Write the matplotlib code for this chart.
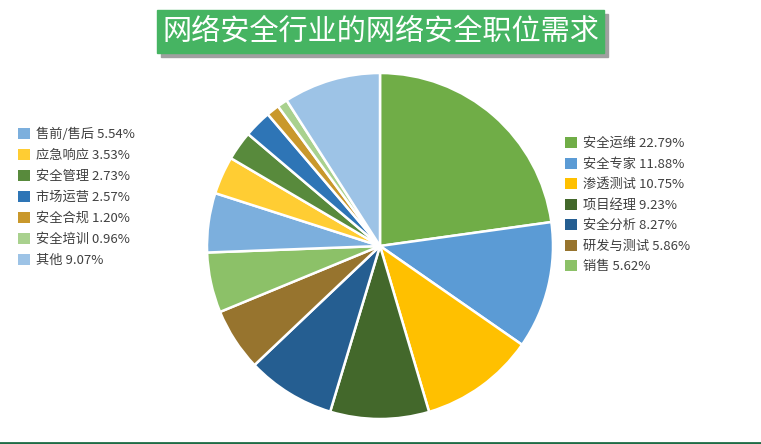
import matplotlib
matplotlib.use('Agg')
import matplotlib.pyplot as plt
from matplotlib.patches import Rectangle
from matplotlib.lines import Line2D

plt.rcParams['font.family'] = ['Noto Sans CJK SC', 'DejaVu Sans']

title = '网络安全行业的网络安全职位需求'
jobs = ['安全运维', '安全专家', '渗透测试', '项目经理', '安全分析', '研发与测试', '销售',
        '售前/售后', '应急响应', '安全管理', '市场运营', '安全合规', '安全培训', '其他']
shares = [22.79, 11.88, 10.75, 9.23, 8.27, 5.86, 5.62,
          5.54, 3.53, 2.73, 2.57, 1.20, 0.96, 9.07]
colors = ['#70ad47', '#5b9bd5', '#ffc000', '#43682b', '#255e91', '#97742e', '#8cc168',
          '#7cafdd', '#ffcd33', '#588a3c', '#2e75b6', '#c9982b', '#a9d18e', '#9dc3e6']

W, H = 761, 444
fig = plt.figure(figsize=(W / 100, H / 100), dpi=100)

# pie, center (380, 246) px, radius 173 px
cx, cy, r = 380, 246, 173
ax = fig.add_axes([(cx - r) / W, (H - cy - r) / H, 2 * r / W, 2 * r / H])
wedges, _ = ax.pie(shares, colors=colors, startangle=90, counterclock=False,
                   wedgeprops=dict(edgecolor='white', linewidth=1.8))
ax.set_xlim(-1, 1)
ax.set_ylim(-1, 1)
ax.set_aspect('equal')
ax.axis('off')

labels = [f'{j} {s:.2f}%' for j, s in zip(jobs, shares)]

def make_legend(idx, x, y, spacing):
    leg = fig.legend([wedges[i] for i in idx], [labels[i] for i in idx],
                     loc='upper left', bbox_to_anchor=(x / W, 1 - y / H),
                     frameon=False, fontsize=9.5, labelspacing=spacing,
                     handlelength=0.9, handleheight=0.9, handletextpad=0.5,
                     borderpad=0, borderaxespad=0, labelcolor='#404040')
    for h in leg.legend_handles:
        h.set_edgecolor('none')
    return leg

make_legend(range(0, 7), 565, 137, 0.57)
make_legend(range(7, 14), 18, 128, 0.6)

# title box with shadow
fig.patches.append(Rectangle((161 / W, 1 - 57 / H), 447 / W, 43 / H,
                             transform=fig.transFigure, color='#a0a0a0', zorder=1))
fig.patches.append(Rectangle((157 / W, 1 - 53 / H), 447 / W, 43 / H,
                             transform=fig.transFigure, color='#46b462', zorder=2))
fig.text((157 + 447 / 2) / W, 1 - 31.5 / H, title, color='white', fontsize=21,
         ha='center', va='center', zorder=3)

# bottom rule
fig.lines.append(Line2D([0, 1], [1 - 443 / H, 1 - 443 / H], transform=fig.transFigure,
                        color='#1e6b45', linewidth=2))

fig.savefig('out.png', dpi=100)
